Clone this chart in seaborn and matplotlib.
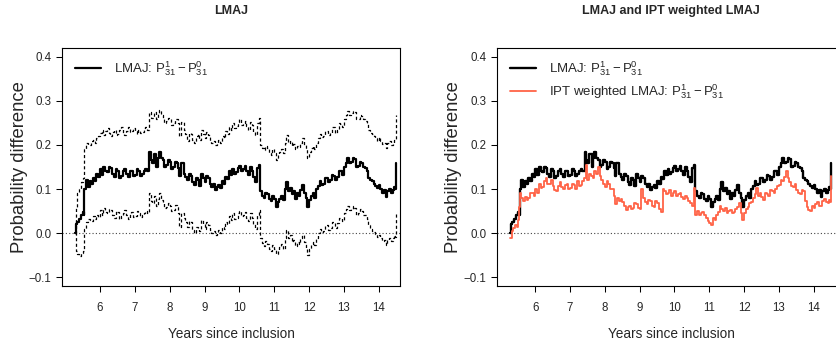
import numpy as np
import pandas as pd
import seaborn as sns
import matplotlib.pyplot as plt

# ---- data (step functions) ----
lmaj_t = [5.28, 5.30, 5.34, 5.40, 5.45, 5.50, 5.53, 5.55, 5.60, 5.65, 5.70, 5.75, 5.80, 5.85, 5.90, 5.95,
          6.00, 6.05, 6.10, 6.15, 6.20, 6.25, 6.30, 6.35, 6.40, 6.45, 6.50, 6.55, 6.60, 6.65, 6.70, 6.75,
          6.80, 6.85, 6.90, 6.95, 7.00, 7.05, 7.10, 7.15, 7.20, 7.25, 7.30, 7.35, 7.42, 7.46, 7.50, 7.55,
          7.62, 7.66, 7.70, 7.75, 7.80, 7.85, 7.90, 7.95, 8.00, 8.05, 8.10, 8.15, 8.20, 8.25, 8.28, 8.33,
          8.40, 8.45, 8.50, 8.55, 8.60, 8.65, 8.70, 8.75, 8.80, 8.85, 8.90, 8.95, 9.00, 9.05, 9.10, 9.15,
          9.20, 9.25, 9.30, 9.35, 9.40, 9.45, 9.50, 9.55, 9.60, 9.65, 9.70, 9.75, 9.80, 9.85, 9.90, 9.95,
          10.00, 10.05, 10.10, 10.15, 10.20, 10.25, 10.30, 10.35, 10.40, 10.45, 10.50, 10.55, 10.60, 10.65,
          10.70, 10.75, 10.80, 10.85, 10.90, 10.95, 11.00, 11.05, 11.10, 11.15, 11.20, 11.25, 11.30, 11.35,
          11.40, 11.45, 11.50, 11.55, 11.60, 11.65, 11.70, 11.75, 11.80, 11.85, 11.90, 11.95, 12.00, 12.05,
          12.10, 12.15, 12.20, 12.25, 12.30, 12.35, 12.40, 12.45, 12.50, 12.55, 12.60, 12.65, 12.70, 12.75,
          12.80, 12.85, 12.90, 12.95, 13.00, 13.05, 13.10, 13.15, 13.20, 13.25, 13.30, 13.35, 13.40, 13.45,
          13.50, 13.55, 13.60, 13.65, 13.70, 13.75, 13.80, 13.85, 13.90, 13.95, 14.00, 14.05, 14.10, 14.15,
          14.20, 14.25, 14.30, 14.35, 14.40, 14.44, 14.48, 14.50]

lmaj_est = [0.000, 0.020, 0.025, 0.032, 0.040, 0.048, 0.042, 0.100, 0.120, 0.105, 0.118, 0.112, 0.125, 0.118, 0.135, 0.128,
            0.145, 0.132, 0.150, 0.140, 0.138, 0.150, 0.148, 0.135, 0.128, 0.145, 0.140, 0.125, 0.130, 0.140, 0.145, 0.135,
            0.128, 0.140, 0.142, 0.130, 0.132, 0.145, 0.140, 0.130, 0.135, 0.142, 0.145, 0.140, 0.185, 0.165, 0.160, 0.180,
            0.150, 0.170, 0.185, 0.170, 0.165, 0.150, 0.155, 0.165, 0.162, 0.145, 0.150, 0.162, 0.160, 0.148, 0.130, 0.158,
            0.135, 0.128, 0.120, 0.135, 0.130, 0.115, 0.110, 0.125, 0.120, 0.108, 0.135, 0.125, 0.115, 0.130, 0.125, 0.112,
            0.105, 0.112, 0.098, 0.105, 0.110, 0.102, 0.118, 0.112, 0.128, 0.122, 0.140, 0.132, 0.145, 0.135, 0.138, 0.148,
            0.152, 0.140, 0.145, 0.152, 0.140, 0.132, 0.150, 0.140, 0.128, 0.115, 0.148, 0.155, 0.095, 0.085,
            0.080, 0.092, 0.088, 0.078, 0.072, 0.085, 0.078, 0.060, 0.070, 0.078, 0.085, 0.075, 0.100, 0.115,
            0.095, 0.102, 0.088, 0.095, 0.078, 0.090, 0.085, 0.098, 0.110, 0.092, 0.080, 0.060, 0.075, 0.085,
            0.090, 0.080, 0.100, 0.108, 0.118, 0.110, 0.112, 0.125, 0.125, 0.115, 0.120, 0.132, 0.130, 0.120,
            0.128, 0.142, 0.140, 0.132, 0.150, 0.160, 0.170, 0.158, 0.162, 0.170, 0.168, 0.150, 0.152, 0.162,
            0.160, 0.150, 0.148, 0.140, 0.125, 0.120, 0.118, 0.112, 0.108, 0.102, 0.110, 0.100, 0.092, 0.098,
            0.082, 0.095, 0.100, 0.092, 0.098, 0.105, 0.100, 0.158]

lmaj_upper = [0.000, 0.060, 0.090, 0.100, 0.115, 0.125, 0.150, 0.190, 0.205, 0.200, 0.200, 0.208, 0.212, 0.205, 0.215, 0.220,
              0.228, 0.235, 0.222, 0.232, 0.238, 0.228, 0.220, 0.230, 0.235, 0.222, 0.225, 0.235, 0.240, 0.228, 0.222, 0.232,
              0.240, 0.230, 0.232, 0.238, 0.232, 0.225, 0.235, 0.228, 0.230, 0.238, 0.240, 0.235, 0.275, 0.262, 0.262, 0.275,
              0.260, 0.270, 0.280, 0.268, 0.262, 0.250, 0.255, 0.262, 0.258, 0.245, 0.250, 0.260, 0.258, 0.250, 0.220, 0.252,
              0.235, 0.225, 0.210, 0.228, 0.225, 0.212, 0.205, 0.220, 0.225, 0.212, 0.235, 0.225, 0.215, 0.230, 0.222, 0.210,
              0.205, 0.210, 0.200, 0.205, 0.212, 0.205, 0.220, 0.215, 0.232, 0.225, 0.240, 0.235, 0.250, 0.238, 0.242, 0.252,
              0.258, 0.245, 0.250, 0.255, 0.242, 0.235, 0.252, 0.245, 0.230, 0.222, 0.250, 0.262, 0.200, 0.192,
              0.188, 0.198, 0.192, 0.182, 0.178, 0.190, 0.182, 0.165, 0.178, 0.185, 0.190, 0.182, 0.205, 0.222,
              0.205, 0.210, 0.198, 0.202, 0.190, 0.198, 0.195, 0.205, 0.215, 0.200, 0.190, 0.170, 0.185, 0.192,
              0.198, 0.190, 0.205, 0.215, 0.225, 0.218, 0.220, 0.232, 0.232, 0.222, 0.228, 0.240, 0.240, 0.228,
              0.235, 0.250, 0.248, 0.240, 0.258, 0.268, 0.278, 0.268, 0.272, 0.278, 0.275, 0.258, 0.260, 0.268,
              0.265, 0.258, 0.255, 0.248, 0.235, 0.228, 0.225, 0.220, 0.215, 0.210, 0.218, 0.208, 0.202, 0.205,
              0.192, 0.205, 0.210, 0.200, 0.205, 0.212, 0.212, 0.268]

lmaj_lower = [0.000, -0.040, -0.048, -0.052, -0.045, -0.040, -0.035, 0.010, 0.025, 0.032, 0.030, 0.028, 0.038, 0.032, 0.040, 0.036,
              0.052, 0.040, 0.058, 0.048, 0.045, 0.055, 0.052, 0.042, 0.035, 0.050, 0.048, 0.032, 0.038, 0.046, 0.052, 0.042,
              0.032, 0.044, 0.048, 0.036, 0.038, 0.050, 0.045, 0.036, 0.040, 0.046, 0.050, 0.045, 0.092, 0.072, 0.068, 0.085,
              0.062, 0.078, 0.090, 0.076, 0.070, 0.058, 0.060, 0.068, 0.062, 0.050, 0.052, 0.064, 0.060, 0.045, 0.015, 0.045,
              0.035, 0.025, 0.015, 0.028, 0.025, 0.008, 0.000, 0.015, 0.012, 0.005, 0.030, 0.020, 0.010, 0.025, 0.018, 0.006,
              0.000, 0.005, -0.005, 0.002, 0.008, 0.000, 0.015, 0.010, 0.025, 0.020, 0.038, 0.030, 0.045, 0.032, 0.035, 0.045,
              0.050, 0.038, 0.042, 0.048, 0.035, 0.028, 0.045, 0.035, 0.020, 0.010, 0.040, 0.052, -0.012, -0.022,
              -0.030, -0.018, -0.025, -0.035, -0.040, -0.028, -0.035, -0.048, -0.040, -0.032, -0.025, -0.035, -0.010, 0.008,
              -0.012, -0.005, -0.020, -0.015, -0.030, -0.020, -0.025, -0.012, -0.005, -0.020, -0.035, -0.050, -0.035, -0.025,
              -0.020, -0.028, -0.010, 0.000, 0.010, 0.002, 0.005, 0.018, 0.018, 0.008, 0.012, 0.025, 0.025, 0.012,
              0.022, 0.035, 0.035, 0.028, 0.045, 0.055, 0.062, 0.052, 0.055, 0.062, 0.058, 0.042, 0.045, 0.055,
              0.050, 0.042, 0.040, 0.032, 0.018, 0.010, 0.005, 0.002, -0.002, -0.008, -0.005, -0.012, -0.018, -0.015,
              -0.028, -0.015, -0.010, -0.018, -0.012, -0.005, -0.008, 0.048]

ipt_t = [5.28, 5.32, 5.36, 5.42, 5.47, 5.50, 5.53, 5.56, 5.60, 5.65, 5.70, 5.75, 5.80, 5.85, 5.90, 5.95,
         6.00, 6.05, 6.10, 6.15, 6.20, 6.25, 6.30, 6.35, 6.40, 6.45, 6.50, 6.55, 6.60, 6.65, 6.70, 6.75,
         6.80, 6.85, 6.90, 6.95, 7.00, 7.05, 7.10, 7.15, 7.20, 7.25, 7.30, 7.35, 7.40, 7.45, 7.50, 7.55,
         7.60, 7.65, 7.70, 7.75, 7.80, 7.85, 7.90, 7.95, 8.00, 8.05, 8.10, 8.15, 8.20, 8.25, 8.28, 8.35,
         8.40, 8.45, 8.50, 8.55, 8.60, 8.65, 8.70, 8.75, 8.80, 8.85, 8.90, 8.95, 9.00, 9.05, 9.10, 9.15,
         9.20, 9.25, 9.30, 9.35, 9.40, 9.45, 9.50, 9.55, 9.60, 9.66, 9.70, 9.75, 9.80, 9.85, 9.90, 9.95,
         10.00, 10.05, 10.10, 10.15, 10.20, 10.25, 10.30, 10.35, 10.40, 10.45, 10.50, 10.55, 10.60, 10.65,
         10.70, 10.75, 10.80, 10.85, 10.90, 10.95, 11.00, 11.05, 11.10, 11.15, 11.20, 11.25, 11.30, 11.35,
         11.40, 11.45, 11.50, 11.55, 11.60, 11.65, 11.70, 11.75, 11.80, 11.85, 11.90, 11.95, 12.00, 12.05,
         12.10, 12.15, 12.20, 12.25, 12.30, 12.35, 12.40, 12.45, 12.50, 12.55, 12.60, 12.65, 12.70, 12.75,
         12.80, 12.85, 12.90, 12.95, 13.00, 13.05, 13.10, 13.15, 13.20, 13.25, 13.30, 13.35, 13.40, 13.45,
         13.50, 13.55, 13.60, 13.65, 13.70, 13.75, 13.80, 13.85, 13.90, 13.95, 14.00, 14.05, 14.10, 14.15,
         14.20, 14.25, 14.30, 14.35, 14.40, 14.44, 14.48, 14.50]

ipt_est = [-0.012, 0.005, 0.012, 0.018, 0.015, 0.030, 0.060, 0.092, 0.080, 0.072, 0.082, 0.075, 0.080, 0.090, 0.092, 0.085,
           0.100, 0.092, 0.112, 0.102, 0.105, 0.118, 0.125, 0.112, 0.112, 0.120, 0.108, 0.098, 0.095, 0.108, 0.115, 0.105,
           0.100, 0.110, 0.112, 0.100, 0.102, 0.112, 0.110, 0.100, 0.118, 0.108, 0.110, 0.118, 0.125, 0.155, 0.120, 0.135,
           0.130, 0.125, 0.142, 0.135, 0.150, 0.130, 0.120, 0.112, 0.105, 0.118, 0.112, 0.100, 0.100, 0.085, 0.065, 0.080,
           0.072, 0.078, 0.070, 0.062, 0.052, 0.060, 0.062, 0.055, 0.058, 0.068, 0.065, 0.058, 0.055, 0.100, 0.080, 0.070,
           0.065, 0.075, 0.072, 0.062, 0.060, 0.072, 0.068, 0.055, 0.048, 0.100, 0.095, 0.088, 0.092, 0.098, 0.085, 0.090,
           0.095, 0.085, 0.088, 0.092, 0.082, 0.078, 0.085, 0.080, 0.072, 0.068, 0.062, 0.102, 0.042, 0.050,
           0.040, 0.045, 0.048, 0.040, 0.035, 0.028, 0.022, 0.018, 0.035, 0.030, 0.040, 0.048, 0.062, 0.055,
           0.050, 0.058, 0.045, 0.050, 0.052, 0.045, 0.048, 0.055, 0.060, 0.068, 0.045, 0.030, 0.045, 0.055,
           0.060, 0.068, 0.070, 0.080, 0.088, 0.102, 0.085, 0.090, 0.082, 0.075, 0.092, 0.088, 0.085, 0.098,
           0.095, 0.090, 0.100, 0.108, 0.110, 0.120, 0.118, 0.128, 0.140, 0.125, 0.115, 0.108, 0.105, 0.112,
           0.098, 0.092, 0.088, 0.098, 0.095, 0.072, 0.060, 0.052, 0.050, 0.062, 0.058, 0.065, 0.070, 0.062,
           0.062, 0.072, 0.078, 0.070, 0.068, 0.075, 0.070, 0.130]

x_ticks = [6, 7, 8, 9, 10, 11, 12, 13, 14]
y_ticks = [-0.1, 0.0, 0.1, 0.2, 0.3, 0.4]
y_ticklabels = ["\u22120.1", "0.0", "0.1", "0.2", "0.3", "0.4"]

lmaj = pd.DataFrame({"t": lmaj_t, "est": lmaj_est, "lo": lmaj_lower, "hi": lmaj_upper})
ipt = pd.DataFrame({"t": ipt_t, "est": ipt_est})

sns.set_style("ticks")
plt.rcParams["font.family"] = ["Liberation Sans", "DejaVu Sans"]
plt.rcParams["mathtext.fontset"] = "custom"
plt.rcParams["mathtext.rm"] = "Liberation Sans"
plt.rcParams["mathtext.it"] = "Liberation Sans"

lab = r"$\mathregular{P^1_{31} - P^0_{31}}$"
red = "#FF6347"

fig = plt.figure(figsize=(8.36, 3.43), dpi=100)
ax1 = fig.add_axes([62 / 836, 57 / 343, 338 / 836, 238 / 343])
ax2 = fig.add_axes([497 / 836, 57 / 343, 348 / 836, 238 / 343])

# left panel: estimate with dashed bands
for col in ["hi", "lo"]:
    sns.lineplot(data=lmaj, x="t", y=col, ax=ax1, color="black", lw=0.9,
                 linestyle=(0, (2.5, 2.0)), drawstyle="steps-post", estimator=None, sort=False)
sns.lineplot(data=lmaj, x="t", y="est", ax=ax1, color="black", lw=1.6,
             drawstyle="steps-post", estimator=None, sort=False, label="LMAJ: " + lab)
ax1.set_xlim(4.91, 14.61)
ax1.set_title("LMAJ", fontsize=9, fontweight="bold", y=1.122, va="center")

# right panel: LMAJ vs IPT weighted
sns.lineplot(data=lmaj, x="t", y="est", ax=ax2, color="black", lw=1.7,
             drawstyle="steps-post", estimator=None, sort=False, label="LMAJ: " + lab)
sns.lineplot(data=ipt, x="t", y="est", ax=ax2, color=red, lw=1.3,
             drawstyle="steps-post", estimator=None, sort=False,
             label="IPT weighted LMAJ: " + lab)
ax2.set_xlim(4.9, 14.9)
ax2.set_title("LMAJ and IPT weighted LMAJ", fontsize=9, fontweight="bold", y=1.122, va="center")

for ax in (ax1, ax2):
    ax.axhline(0, color="#444444", lw=0.8, linestyle=(0, (1, 2)), zorder=0)
    ax.set_ylim(-0.12, 0.42)
    ax.set_xticks(x_ticks)
    ax.set_xticklabels([str(v) for v in x_ticks])
    ax.set_yticks(y_ticks)
    ax.set_yticklabels(y_ticklabels)
    ax.tick_params(direction="out", length=4.5, width=0.75, labelsize=8.3, color="black")
    ax.tick_params(axis="x", pad=7)
    ax.tick_params(axis="y", pad=3)
    for s in ax.spines.values():
        s.set_visible(True)
        s.set_linewidth(0.8)
        s.set_color("black")
    ax.set_xlabel("Years since inclusion", fontsize=9.8)
    ax.xaxis.set_label_coords(0.5, -0.2)
    ax.xaxis.label.set_va("center")
    ax.set_ylabel("Probability difference", fontsize=13.3)
    ax.yaxis.label.set_va("center")
    ax.legend(loc="upper left", bbox_to_anchor=(0.01, 0.99), frameon=False, fontsize=9.5,
              handlelength=2.0, handletextpad=1.0, labelspacing=0.3, borderaxespad=0.3)

ax1.yaxis.set_label_coords(-0.127, 0.5)
ax2.yaxis.set_label_coords(-0.124, 0.5)

fig.savefig("out.png", dpi=100)
